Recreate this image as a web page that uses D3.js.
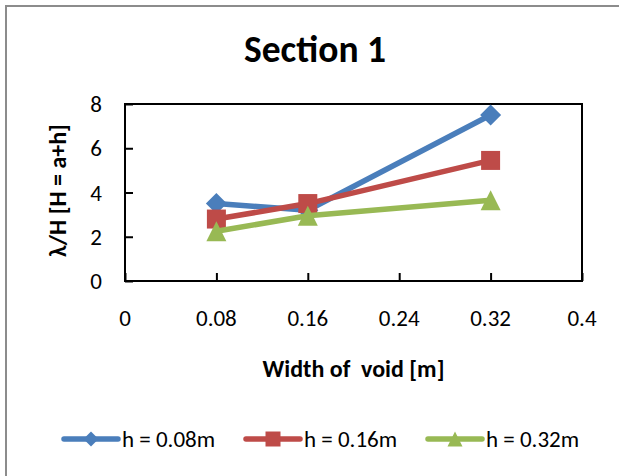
<!DOCTYPE html>
<html>
<head>
<meta charset="utf-8">
<script src="https://cdn.jsdelivr.net/npm/d3@7/dist/d3.min.js"></script>
<style>
  html, body { margin: 0; padding: 0; background: #fff; }
  svg { display: block; }
  text { font-family: Calibri, Carlito, Lato, "Open Sans", sans-serif; fill: #000; }
</style>
</head>
<body>
<svg id="chart" width="619" height="476"></svg>
<script>
// Void widths on the x axis (m)
const widths = [0.08, 0.16, 0.32];

// λ/H for each void height h
const seriesNames = ["h = 0.08m", "h = 0.16m", "h = 0.32m"];
const h008 = [3.5, 3.2, 7.5];
const h016 = [2.8, 3.5, 5.45];
const h032 = [2.25, 2.95, 3.65];

const xTicks = [0, 0.08, 0.16, 0.24, 0.32, 0.4];
const yTicks = [0, 2, 4, 6, 8];

const colors = ["#4a7ebb", "#be4b48", "#98b954"];
const shapes = ["diamond", "square", "triangle"];

const svg = d3.select("#chart");

// Outer chart frame
svg.append("rect")
  .attr("x", 6).attr("y", 6)
  .attr("width", 800).attr("height", 600)
  .attr("fill", "#fff")
  .attr("stroke", "#8c8c8c")
  .attr("stroke-width", 2);

const plot = { left: 125, right: 582, top: 104, bottom: 281 };

const x = d3.scaleLinear().domain([0, 0.4]).range([plot.left, plot.right]);
const y = d3.scaleLinear().domain([0, 8]).range([plot.bottom, plot.top]);

// Title
svg.append("text")
  .attr("x", 315).attr("y", 62)
  .attr("text-anchor", "middle")
  .attr("font-weight", "bold")
  .attr("font-size", 37.5)
  .text("Section 1");

// Axes (inside ticks, labels placed separately)
const xAxis = d3.axisBottom(x).tickValues(xTicks).tickSize(-8).tickFormat("");
const yAxis = d3.axisLeft(y).tickValues(yTicks).tickSize(-8).tickFormat("");

const gx = svg.append("g").attr("transform", `translate(0,${plot.bottom})`).call(xAxis);
const gy = svg.append("g").attr("transform", `translate(${plot.left},0)`).call(yAxis);
[gx, gy].forEach(g => {
  g.select(".domain").remove();
  g.selectAll(".tick line").attr("stroke", "#000").attr("stroke-width", 2);
});

// Plot area border
svg.append("rect")
  .attr("x", plot.left).attr("y", plot.top)
  .attr("width", plot.right - plot.left).attr("height", plot.bottom - plot.top)
  .attr("fill", "none")
  .attr("stroke", "#000")
  .attr("stroke-width", 2);

// Tick labels
svg.append("g").selectAll("text").data(xTicks).join("text")
  .attr("x", d => x(d)).attr("y", 326)
  .attr("text-anchor", "middle")
  .attr("font-size", 23)
  .text(d => String(d));

svg.append("g").selectAll("text").data(yTicks).join("text")
  .attr("x", 102).attr("y", d => y(d))
  .attr("dy", "0.35em")
  .attr("text-anchor", "end")
  .attr("font-size", 23)
  .text(d => String(d));

// Axis titles
svg.append("text")
  .attr("x", (plot.left + plot.right) / 2).attr("y", 377)
  .attr("text-anchor", "middle")
  .attr("font-weight", "bold")
  .attr("font-size", 24)
  .style("white-space", "pre")
  .text("Width of  void [m]");

svg.append("text")
  .attr("transform", `translate(66,${(plot.top + plot.bottom) / 2 - 2}) rotate(-90)`)
  .attr("text-anchor", "middle")
  .attr("font-weight", "bold")
  .attr("font-size", 24)
  .text("λ/H [H = a+h]");

// Marker shapes sized by overall extent s
function markerPath(shape, s) {
  const r = s / 2;
  if (shape === "diamond") return `M0,${-r}L${r},0L0,${r}L${-r},0Z`;
  if (shape === "square") return `M${-r},${-r}H${r}V${r}H${-r}Z`;
  return `M0,${-r}L${r},${r}H${-r}Z`;
}

const allSeries = [h008, h016, h032].map((vals, i) => ({
  name: seriesNames[i],
  color: colors[i],
  shape: shapes[i],
  points: widths.map((w, j) => ({ w, v: vals[j] }))
}));

const line = d3.line().x(d => x(d.w)).y(d => y(d.v));
const markerSize = { diamond: 21, square: 19, triangle: 20 };

allSeries.forEach(s => {
  const g = svg.append("g");
  g.append("path")
    .attr("d", line(s.points))
    .attr("fill", "none")
    .attr("stroke", s.color)
    .attr("stroke-width", 5.5)
    .attr("stroke-linejoin", "round");
  g.selectAll("path.m").data(s.points).join("path")
    .attr("class", "m")
    .attr("transform", d => `translate(${x(d.w)},${y(d.v)})`)
    .attr("d", markerPath(s.shape, markerSize[s.shape]))
    .attr("fill", s.color);
});

// Legend
const legendX = [64, 246, 428];
const legend = svg.append("g").attr("transform", "translate(0,439)");
allSeries.forEach((s, i) => {
  const g = legend.append("g").attr("transform", `translate(${legendX[i]},0)`);
  g.append("line")
    .attr("x1", 0).attr("x2", 54)
    .attr("stroke", s.color)
    .attr("stroke-width", 5.5)
    .attr("stroke-linecap", "round");
  g.append("path")
    .attr("transform", "translate(27,0)")
    .attr("d", markerPath(s.shape, 15))
    .attr("fill", s.color);
  g.append("text")
    .attr("x", 58).attr("dy", "0.35em")
    .attr("font-size", 23)
    .text(s.name);
});
</script>
</body>
</html>
